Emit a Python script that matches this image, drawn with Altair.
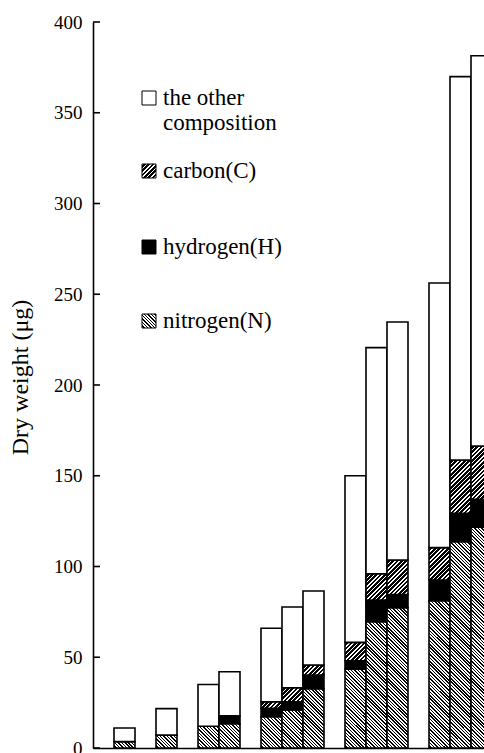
import altair as alt

# ---------------- data ----------------
bar_groups = [1, 1, 2, 3, 3, 3]          # bars per group (groups separated by one empty slot)
nitrogen = [3.5, 7.2, 12.0, 13.4, 17.3, 21.0, 32.7, 43.5, 69.6, 77.3, 81.2, 113.7, 121.6]
hydrogen = [0.0, 0.0, 0.0, 4.4, 4.6, 4.5, 7.5, 4.6, 11.9, 7.3, 11.4, 15.6, 15.4]
carbon = [0.0, 0.0, 0.0, 0.0, 3.6, 7.7, 5.5, 10.1, 14.5, 19.0, 17.8, 29.4, 29.4]
other = [7.5, 14.5, 23.0, 24.2, 40.5, 44.5, 40.8, 91.8, 124.6, 131.1, 145.8, 211.2, 215.0]
components = ["nitrogen(N)", "hydrogen(H)", "carbon(C)", "the other composition"]
legend_labels = ["the other\ncomposition", "carbon(C)", "hydrogen(H)", "nitrogen(N)"]
legend_comps = ["the other composition", "carbon(C)", "hydrogen(H)", "nitrogen(N)"]
y_ticks = [0, 50, 100, 150, 200, 250, 300, 350, 400]

# ---------------- layout / style ----------------
PAD_L, PAD_T, PAD_B = 93, 22, 5
PLOT_W, PLOT_H = 391, 726
SLOT_PX = 21.0
Y_MAX = 400
FONT = "Liberation Serif"
LEG_BASELINES = [105, 178, 254, 328]   # page pixels
SW = 14


def hatch(w, h, spacing, frac, direction):
    L = w + h
    t = L / (w * w + h * h)
    if direction == "/":
        x1, y1, x2, y2 = 0, 0, t * w, t * h
    else:
        x1, y1, x2, y2 = 0, 1, t * w, 1 - t * h
    n = int(L / spacing) + 1
    stops = []
    for k in range(n):
        a = min(k * spacing / L, 1)
        b = min((k + 1 - frac) * spacing / L, 1)
        c = min((k + 1) * spacing / L, 1)
        stops += [
            {"offset": round(a, 5), "color": "white"},
            {"offset": round(b, 5), "color": "white"},
            {"offset": round(b, 5), "color": "black"},
            {"offset": round(c, 5), "color": "black"},
        ]
    return {"gradient": "linear", "x1": x1, "y1": y1, "x2": round(x2, 5),
            "y2": round(y2, 5), "stops": stops}


def style(comp, w, h):
    if comp == "nitrogen(N)":
        return hatch(w, h, 3.4, 0.45, "\\")
    if comp == "carbon(C)":
        return hatch(w, h, 4.3, 0.62, "/")
    if comp == "hydrogen(H)":
        return "black"
    return "white"


# slots for every bar
slots = []
start = 1
for n in bar_groups:
    slots += list(range(start, start + n))
    start += n + 1

rows = []
for i, slot in enumerate(slots):
    base = 0.0
    for comp, vals in zip(components, [nitrogen, hydrogen, carbon, other]):
        v = vals[i]
        if v <= 0:
            continue
        hpx = v * PLOT_H / Y_MAX
        rows.append({"x0": slot, "x1": slot + 1, "y0": base, "y1": base + v,
                     "comp": comp, "fill": style(comp, SLOT_PX, hpx)})
        base += v

y_scale = alt.Scale(domain=[0, Y_MAX], nice=False)
y_axis = alt.Axis(values=y_ticks, ticks=False, labelPadding=11, grid=False,
                  domainColor="black", domainWidth=1.6,
                  labelFont=FONT, labelFontSize=19, labelColor="black",
                  title="Dry weight (μg)", titleFont=FONT, titleFontSize=24,
                  titleFontWeight="normal", titleColor="black",
                  titleX=-61, titleY=355)

bars = alt.Chart(alt.Data(values=rows)).mark_bar(
    stroke="black", strokeWidth=1.6, clip=True
).encode(
    x=alt.X("x0:Q", scale=alt.Scale(domain=[0, PLOT_W / SLOT_PX], nice=False, zero=False),
            axis=alt.Axis(labels=False, ticks=False, title=None, grid=False,
                          domainColor="black", domainWidth=1.6)),
    x2="x1:Q",
    y=alt.Y("y0:Q", scale=y_scale, axis=y_axis, title="Dry weight (μg)"),
    y2="y1:Q",
    fill=alt.Fill("fill:N", scale=None),
)

tick_rules = alt.Chart(alt.Data(values=[{"y0": v} for v in y_ticks])).mark_rule(
    color="black", strokeWidth=1.6
).encode(
    y=alt.Y("y0:Q", scale=y_scale, axis=y_axis, title="Dry weight (μg)"),
    x=alt.value(0),
    x2=alt.value(7),
)

leg_rows = []
for lab, comp, bl in zip(legend_labels, legend_comps, LEG_BASELINES):
    yb = bl - PAD_T
    leg_rows.append({"label": lab, "sx0": 142 - PAD_L, "sx1": 142 - PAD_L + SW,
                     "sy0": yb - SW, "sy1": yb, "tx": 163 - PAD_L, "ty": yb,
                     "fill": style(comp, SW, SW)})

swatches = alt.Chart(alt.Data(values=leg_rows)).mark_rect(
    stroke="black", strokeWidth=1
).encode(
    x=alt.X("sx0:Q", scale=None), x2="sx1:Q",
    y=alt.Y("sy0:Q", scale=None), y2="sy1:Q",
    fill=alt.Fill("fill:N", scale=None),
)

texts = alt.Chart(alt.Data(values=leg_rows)).mark_text(
    align="left", baseline="alphabetic", font=FONT, fontSize=23,
    lineBreak="\n", lineHeight=25, color="black"
).encode(
    x=alt.X("tx:Q", scale=None),
    y=alt.Y("ty:Q", scale=None),
    text="label:N",
)

chart = alt.layer(bars, tick_rules, swatches, texts).properties(
    width=PLOT_W, height=PLOT_H,
    autosize=alt.AutoSizeParams(type="none"),
    padding={"left": PAD_L, "top": PAD_T, "right": 0, "bottom": PAD_B},
    background="white",
).configure_view(strokeWidth=0)

chart.save("out.html", embed_options={"renderer": "svg", "actions": False})
